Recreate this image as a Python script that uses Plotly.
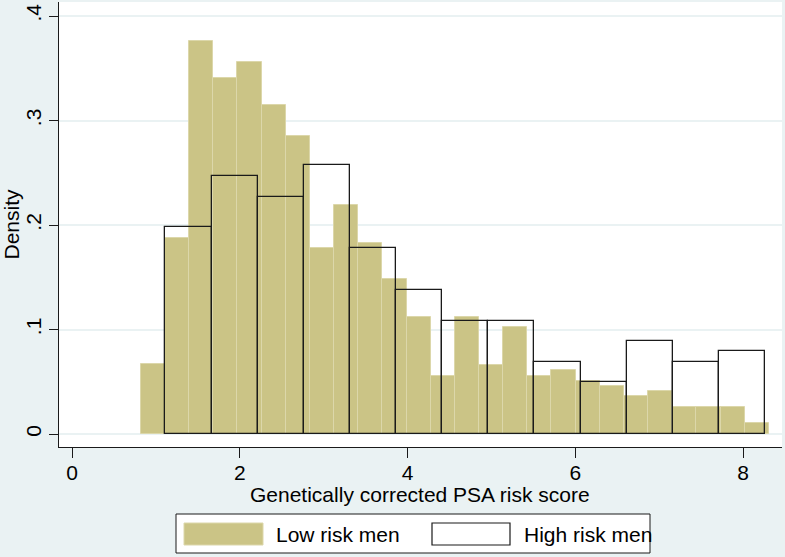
import numpy as np
import plotly.graph_objects as go

# ---- data ----
low_start = 0.819
low_width = 0.2881
low_density = [0.067, 0.188, 0.376, 0.341, 0.356, 0.315, 0.285, 0.178, 0.219, 0.183,
               0.148, 0.112, 0.056, 0.112, 0.066, 0.102, 0.056, 0.061, 0.051, 0.046,
               0.036, 0.041, 0.026, 0.026, 0.026, 0.0105]

high_start = 1.1136
high_width = 0.5499
high_density = [0.198, 0.247, 0.227, 0.257, 0.178, 0.138, 0.1085, 0.1085, 0.069,
                0.0494, 0.089, 0.069, 0.079]

x_ticks = [0, 2, 4, 6, 8]
x_tick_labels = ["0", "2", "4", "6", "8"]
y_ticks = [0, 0.1, 0.2, 0.3, 0.4]
y_tick_labels = ["0", ".1", ".2", ".3", ".4"]

series_names = ["Low risk men", "High risk men"]
x_title = "Genetically corrected PSA risk score"
y_title = "Density"

# ---- styling ----
KHAKI = "#CBC486"
KHAKI_LINE = "#DCD7AA"
BG = "#EAF2F3"
FONT = "Liberation Sans, Arial, sans-serif"
FS = 21

low_centers = low_start + low_width * (np.arange(len(low_density)) + 0.5)
high_centers = high_start + high_width * (np.arange(len(high_density)) + 0.5)

fig = go.Figure()
fig.add_trace(go.Bar(
    x=low_centers, y=low_density, width=low_width, name=series_names[0],
    marker=dict(color=KHAKI, line=dict(color=KHAKI_LINE, width=1)),
    showlegend=False,
))
fig.add_trace(go.Bar(
    x=high_centers, y=high_density, width=high_width, name=series_names[1],
    marker=dict(color="rgba(0,0,0,0)", line=dict(color="#1a1a1a", width=1.3)),
    showlegend=False,
))

# plot area in pixels: x 59..782, y 2..447
L, R, T, B = 59, 782, 2, 447
W, H = 785, 557

def px(xp):
    return (xp - L) / (R - L)

def py(yp):
    return (B - yp) / (B - T)

shapes = [
    # legend box
    dict(type="rect", xref="paper", yref="paper", x0=px(176), x1=px(650),
         y0=py(514), y1=py(553), line=dict(color="#1a1a1a", width=1), fillcolor="white", layer="above"),
    # low key
    dict(type="rect", xref="paper", yref="paper", x0=px(184), x1=px(263),
         y0=py(523), y1=py(545), line=dict(color=KHAKI_LINE, width=1), fillcolor=KHAKI, layer="above"),
    # high key
    dict(type="rect", xref="paper", yref="paper", x0=px(432), x1=px(510),
         y0=py(523), y1=py(545), line=dict(color="#1a1a1a", width=1.2), fillcolor="white", layer="above"),
]
annotations = [
    dict(text=series_names[0], xref="paper", yref="paper", x=px(274), y=py(534),
         xanchor="left", yanchor="middle", showarrow=False, font=dict(size=FS, family=FONT, color="black")),
    dict(text=series_names[1], xref="paper", yref="paper", x=px(522), y=py(534),
         xanchor="left", yanchor="middle", showarrow=False, font=dict(size=FS, family=FONT, color="black")),
    dict(text=x_title, xref="paper", yref="paper", x=px(420), y=py(494),
         xanchor="center", yanchor="middle", showarrow=False, font=dict(size=FS, family=FONT, color="black")),
]

fig.update_layout(
    width=W, height=H,
    margin=dict(l=L, r=W - R, t=T, b=H - B, pad=0),
    paper_bgcolor=BG, plot_bgcolor="white",
    barmode="overlay", bargap=0,
    font=dict(family=FONT, size=FS, color="black"),
    shapes=shapes, annotations=annotations,
    showlegend=False,
)
fig.update_xaxes(
    range=[-0.155, 8.465], tickvals=x_ticks, ticktext=x_tick_labels,
    showline=True, linecolor="#1a1a1a", linewidth=1.2, mirror=False,
    ticks="outside", ticklen=10, tickcolor="#1a1a1a", tickwidth=1,
    ticklabelstandoff=-3,
    showgrid=False, zeroline=False, automargin=False,
    tickfont=dict(size=FS),
)
fig.update_yaxes(
    range=[-0.0124, 0.4134], tickvals=y_ticks, ticktext=y_tick_labels,
    tickangle=-90,
    showline=True, linecolor="#1a1a1a", linewidth=1.2,
    ticks="outside", ticklen=9, tickcolor="#1a1a1a", tickwidth=1,
    showgrid=True, gridcolor=BG, gridwidth=1.5, zeroline=False, automargin=False,
    title=dict(text=y_title, font=dict(size=FS), standoff=2),
    tickfont=dict(size=FS),
)

fig.write_html(
    "out.html",
    config={"displayModeBar": False},
    post_script="document.body.style.margin='0';document.body.style.padding='0';",
)
